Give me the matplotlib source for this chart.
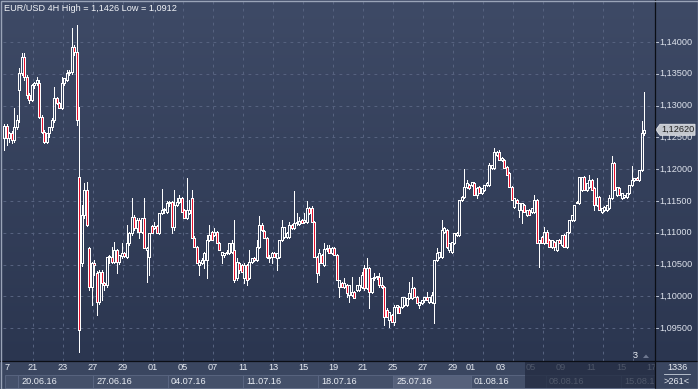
import numpy as np
import matplotlib
matplotlib.use("Agg")
import matplotlib.pyplot as plt
import matplotlib.transforms as mtransforms
from matplotlib.patches import Rectangle, Polygon
from matplotlib.colors import LinearSegmentedColormap

plt.rcParams['font.family'] = ['Liberation Sans', 'DejaVu Sans']

# EUR/USD 4H bars, 17.06.16 .. 16.08.16
opens = [
    1.1249, 1.1268, 1.1249, 1.1257, 1.1246, 1.1266, 1.1325, 1.1351, 1.1376, 1.1345,
    1.1317, 1.1309, 1.1332, 1.1336, 1.1336, 1.1282, 1.1259, 1.1243, 1.1257, 1.1266,
    1.1277, 1.1312, 1.1304, 1.1296, 1.1336, 1.1340, 1.1351, 1.1353, 1.1392, 1.1384,
    1.1188,
    1.1053, 1.1128, 1.1167, 1.1076, 1.1015, 1.1053, 1.1037, 1.0991, 1.1038, 1.1021,
    1.1018, 1.1062, 1.1062, 1.1054, 1.1073, 1.1054, 1.1064, 1.1068, 1.1062, 1.1084,
    1.1100, 1.1125, 1.1108, 1.1120, 1.1101, 1.1123, 1.1073, 1.1062, 1.1111, 1.1108,
    1.1111, 1.1100, 1.1131, 1.1136, 1.1133, 1.1147, 1.1148, 1.1109, 1.1144, 1.1148,
    1.1155, 1.1136, 1.1123, 1.1131, 1.1155, 1.1092, 1.1078, 1.1049, 1.1053, 1.1057,
    1.1057, 1.1089, 1.1101, 1.1097, 1.1101, 1.1084, 1.1065, 1.1065, 1.1068, 1.1068,
    1.1070, 1.1073,
    1.1029, 1.1053, 1.1049, 1.1029, 1.1049, 1.1029, 1.1054, 1.1060, 1.1057, 1.1078,
    1.1112, 1.1103, 1.1092, 1.1060, 1.1062, 1.1068, 1.1060, 1.1062, 1.1089, 1.1093,
    1.1093, 1.1093, 1.1112, 1.1108, 1.1115, 1.1114, 1.1120, 1.1117, 1.1117, 1.1139,
    1.1139, 1.1117, 1.1062, 1.1053, 1.1065, 1.1049, 1.1075, 1.1076, 1.1068, 1.1076,
    1.1065, 1.1015, 1.1021, 1.1015, 1.1018, 1.1002, 1.1002, 1.1007, 1.1010, 1.1010,
    1.1015, 1.1045, 1.1013, 1.1045, 1.1007, 1.1029, 1.1031, 1.1031, 1.1018, 1.1015,
    1.0979, 1.0963, 1.0971, 1.0960, 1.0983, 1.0983, 1.0983, 1.0986, 1.0986, 1.0998,
    1.0998, 1.1013, 1.0999, 1.0986, 1.0990, 1.0994, 1.0999, 1.0991, 1.0991,
    1.0990, 1.1057, 1.1062, 1.1062, 1.1101, 1.1104, 1.1073, 1.1070, 1.1084, 1.1097,
    1.1097, 1.1152, 1.1156, 1.1172, 1.1175, 1.1175, 1.1178, 1.1159, 1.1172, 1.1163,
    1.1167, 1.1175, 1.1175, 1.1202, 1.1202, 1.1222, 1.1227, 1.1214, 1.1214, 1.1203,
    1.1194, 1.1172, 1.1141, 1.1152, 1.1136, 1.1136, 1.1144, 1.1128, 1.1136, 1.1133,
    1.1133, 1.1152, 1.1084, 1.1093, 1.1084, 1.1101, 1.1089, 1.1078, 1.1086, 1.1073,
    1.1089, 1.1081, 1.1097, 1.1078, 1.1101, 1.1120, 1.1120, 1.1148, 1.1147, 1.1167,
    1.1188, 1.1167, 1.1172, 1.1183, 1.1170, 1.1144, 1.1156, 1.1133, 1.1136, 1.1136,
    1.1139, 1.1155, 1.1210, 1.1159, 1.1170, 1.1155, 1.1156, 1.1156, 1.1163, 1.1175,
    1.1183, 1.1186, 1.1183, 1.1199, 1.1257,
]
highs = [
    1.1271, 1.1271, 1.1259, 1.1260, 1.1296, 1.1285, 1.1359, 1.1383, 1.1383, 1.1348,
    1.1320, 1.1334, 1.1337, 1.1345, 1.1340, 1.1285, 1.1262, 1.1257, 1.1266, 1.1281,
    1.1329, 1.1314, 1.1306, 1.1345, 1.1343, 1.1356, 1.1356, 1.1422, 1.1395, 1.1426,
    1.1298,
    1.1144, 1.1178, 1.1180, 1.1078, 1.1054, 1.1057, 1.1040, 1.1042, 1.1042, 1.1023,
    1.1062, 1.1065, 1.1078, 1.1086, 1.1075, 1.1065, 1.1084, 1.1070, 1.1112, 1.1101,
    1.1155, 1.1128, 1.1123, 1.1123, 1.1123, 1.1155, 1.1078, 1.1100, 1.1112, 1.1117,
    1.1112, 1.1131, 1.1169, 1.1139, 1.1150, 1.1150, 1.1150, 1.1167, 1.1155, 1.1159,
    1.1156, 1.1137, 1.1186, 1.1152, 1.1167, 1.1095, 1.1079, 1.1057, 1.1060, 1.1070,
    1.1097, 1.1112, 1.1103, 1.1108, 1.1103, 1.1086, 1.1070, 1.1068, 1.1073, 1.1084,
    1.1089, 1.1120,
    1.1060, 1.1054, 1.1051, 1.1053, 1.1051, 1.1073, 1.1060, 1.1062, 1.1089, 1.1126,
    1.1115, 1.1104, 1.1093, 1.1065, 1.1070, 1.1070, 1.1068, 1.1089, 1.1120, 1.1109,
    1.1101, 1.1117, 1.1114, 1.1166, 1.1131, 1.1125, 1.1122, 1.1131, 1.1150, 1.1141,
    1.1142, 1.1119, 1.1064, 1.1075, 1.1067, 1.1084, 1.1081, 1.1081, 1.1078, 1.1078,
    1.1067, 1.1026, 1.1023, 1.1029, 1.1020, 1.1018, 1.1031, 1.1009, 1.1018, 1.1031,
    1.1038, 1.1049, 1.1060, 1.1046, 1.1029, 1.1037, 1.1032, 1.1037, 1.1031, 1.1016,
    1.0982, 1.0975, 1.0972, 1.0986, 1.0986, 1.0985, 1.0999, 1.0999, 1.0998, 1.1023,
    1.1031, 1.1015, 1.1001, 1.0991, 1.0994, 1.0999, 1.1007, 1.0999, 1.1007,
    1.1057, 1.1076, 1.1070, 1.1120, 1.1109, 1.1106, 1.1084, 1.1086, 1.1100, 1.1101,
    1.1152, 1.1158, 1.1200, 1.1183, 1.1177, 1.1180, 1.1180, 1.1172, 1.1174, 1.1170,
    1.1175, 1.1180, 1.1210, 1.1207, 1.1233, 1.1229, 1.1230, 1.1219, 1.1216, 1.1205,
    1.1196, 1.1174, 1.1155, 1.1153, 1.1147, 1.1147, 1.1145, 1.1136, 1.1137, 1.1139,
    1.1159, 1.1153, 1.1089, 1.1095, 1.1109, 1.1104, 1.1090, 1.1089, 1.1087, 1.1089,
    1.1090, 1.1097, 1.1098, 1.1101, 1.1120, 1.1128, 1.1144, 1.1150, 1.1188, 1.1188,
    1.1189, 1.1178, 1.1191, 1.1185, 1.1172, 1.1186, 1.1158, 1.1139, 1.1142, 1.1144,
    1.1159, 1.1221, 1.1211, 1.1172, 1.1172, 1.1163, 1.1159, 1.1163, 1.1175, 1.1205,
    1.1186, 1.1188, 1.1199, 1.1276, 1.1321,
]
lows = [
    1.1230, 1.1238, 1.1243, 1.1241, 1.1243, 1.1263, 1.1274, 1.1348, 1.1340, 1.1312,
    1.1304, 1.1307, 1.1328, 1.1332, 1.1281, 1.1257, 1.1241, 1.1241, 1.1251, 1.1262,
    1.1274, 1.1303, 1.1296, 1.1295, 1.1332, 1.1339, 1.1348, 1.1350, 1.1380, 1.1270,
    1.0912,
    1.1048, 1.1123, 1.1111, 1.1010, 1.0986, 1.1034, 1.0971, 1.0988, 1.0994, 1.1010,
    1.1015, 1.1053, 1.1053, 1.1053, 1.1037, 1.1051, 1.1060, 1.1062, 1.1060, 1.1081,
    1.1097, 1.1104, 1.1101, 1.1092, 1.1100, 1.1076, 1.1023, 1.1034, 1.1100, 1.1106,
    1.1100, 1.1098, 1.1130, 1.1131, 1.1131, 1.1142, 1.1100, 1.1104, 1.1142, 1.1147,
    1.1133, 1.1123, 1.1122, 1.1130, 1.1092, 1.1078, 1.1053, 1.1034, 1.1051, 1.1045,
    1.1029, 1.1087, 1.1089, 1.1095, 1.1084, 1.1073, 1.1053, 1.1062, 1.1067, 1.1067,
    1.1068, 1.1023,
    1.1026, 1.1037, 1.1038, 1.1021, 1.1018, 1.1027, 1.1053, 1.1056, 1.1056, 1.1076,
    1.1103, 1.1092, 1.1060, 1.1054, 1.1053, 1.1062, 1.1042, 1.1060, 1.1087, 1.1092,
    1.1092, 1.1092, 1.1106, 1.1106, 1.1112, 1.1112, 1.1115, 1.1115, 1.1115, 1.1130,
    1.1117, 1.1062, 1.1023, 1.1034, 1.1053, 1.1048, 1.1071, 1.1068, 1.1067, 1.1065,
    1.1026, 1.0999, 1.1015, 1.1013, 1.0999, 1.0991, 1.1001, 1.0998, 1.1009, 1.1009,
    1.1013, 1.1010, 1.1012, 1.0982, 1.1005, 1.1026, 1.1027, 1.1015, 1.1013, 1.0955,
    1.0968, 1.0952, 1.0960, 1.0955, 1.0974, 1.0974, 1.0982, 1.0985, 1.0985, 1.0996,
    1.0996, 1.0999, 1.0990, 1.0982, 1.0988, 1.0991, 1.0994, 1.0990, 1.0990,
    1.0958, 1.1056, 1.1060, 1.1060, 1.1100, 1.1076, 1.1070, 1.1068, 1.1082, 1.1095,
    1.1095, 1.1150, 1.1155, 1.1170, 1.1169, 1.1174, 1.1159, 1.1155, 1.1163, 1.1161,
    1.1166, 1.1174, 1.1174, 1.1200, 1.1200, 1.1221, 1.1214, 1.1213, 1.1202, 1.1191,
    1.1172, 1.1152, 1.1139, 1.1147, 1.1125, 1.1115, 1.1133, 1.1126, 1.1128, 1.1131,
    1.1131, 1.1084, 1.1046, 1.1084, 1.1082, 1.1084, 1.1078, 1.1076, 1.1073, 1.1071,
    1.1084, 1.1079, 1.1078, 1.1076, 1.1100, 1.1119, 1.1119, 1.1147, 1.1145, 1.1166,
    1.1167, 1.1166, 1.1170, 1.1167, 1.1136, 1.1142, 1.1136, 1.1131, 1.1134, 1.1134,
    1.1137, 1.1153, 1.1167, 1.1158, 1.1159, 1.1153, 1.1155, 1.1155, 1.1161, 1.1174,
    1.1181, 1.1183, 1.1181, 1.1197, 1.1254,
]
closes = [
    1.1268, 1.1249, 1.1257, 1.1246, 1.1266, 1.1277, 1.1351, 1.1376, 1.1345, 1.1317,
    1.1309, 1.1332, 1.1336, 1.1340, 1.1282, 1.1259, 1.1243, 1.1257, 1.1266, 1.1277,
    1.1312, 1.1304, 1.1296, 1.1336, 1.1343, 1.1351, 1.1353, 1.1392, 1.1384, 1.1277,
    1.0947,
    1.1128, 1.1167, 1.1112, 1.1015, 1.1053, 1.1049, 1.0991, 1.1038, 1.1021, 1.1018,
    1.1062, 1.1064, 1.1054, 1.1073, 1.1054, 1.1065, 1.1068, 1.1064, 1.1084, 1.1100,
    1.1125, 1.1108, 1.1120, 1.1101, 1.1123, 1.1076, 1.1076, 1.1100, 1.1100, 1.1111,
    1.1100, 1.1131, 1.1136, 1.1137, 1.1147, 1.1148, 1.1109, 1.1144, 1.1148, 1.1155,
    1.1133, 1.1123, 1.1136, 1.1136, 1.1092, 1.1078, 1.1053, 1.1054, 1.1057, 1.1068,
    1.1089, 1.1097, 1.1089, 1.1101, 1.1084, 1.1073, 1.1070, 1.1068, 1.1070, 1.1084,
    1.1084, 1.1026,
    1.1054, 1.1042, 1.1038, 1.1049, 1.1026, 1.1054, 1.1060, 1.1057, 1.1078, 1.1112,
    1.1104, 1.1092, 1.1062, 1.1062, 1.1068, 1.1062, 1.1068, 1.1089, 1.1109, 1.1109,
    1.1100, 1.1112, 1.1108, 1.1115, 1.1117, 1.1119, 1.1115, 1.1120, 1.1139, 1.1131,
    1.1117, 1.1062, 1.1037, 1.1068, 1.1053, 1.1075, 1.1076, 1.1068, 1.1076, 1.1065,
    1.1026, 1.1026, 1.1015, 1.1021, 1.1005, 1.1018, 1.1007, 1.0998, 1.1018, 1.1018,
    1.1034, 1.1013, 1.1045, 1.1007, 1.1029, 1.1031, 1.1032, 1.1018, 1.1015, 1.0968,
    1.0968, 1.0975, 1.0960, 1.0983, 1.0986, 1.0974, 1.0999, 1.0999, 1.0998, 1.1005,
    1.1013, 1.0999, 1.0990, 1.0991, 1.0994, 1.0999, 1.0994, 1.0999, 1.1002,
    1.1057, 1.1068, 1.1070, 1.1104, 1.1108, 1.1078, 1.1084, 1.1086, 1.1100, 1.1100,
    1.1152, 1.1156, 1.1172, 1.1178, 1.1170, 1.1180, 1.1159, 1.1170, 1.1163, 1.1170,
    1.1175, 1.1178, 1.1207, 1.1207, 1.1227, 1.1227, 1.1214, 1.1218, 1.1202, 1.1191,
    1.1172, 1.1152, 1.1155, 1.1147, 1.1147, 1.1147, 1.1133, 1.1136, 1.1128, 1.1139,
    1.1152, 1.1084, 1.1089, 1.1084, 1.1101, 1.1084, 1.1078, 1.1089, 1.1078, 1.1089,
    1.1084, 1.1097, 1.1078, 1.1101, 1.1120, 1.1128, 1.1144, 1.1147, 1.1188, 1.1188,
    1.1167, 1.1178, 1.1183, 1.1167, 1.1144, 1.1156, 1.1136, 1.1139, 1.1141, 1.1144,
    1.1155, 1.1210, 1.1167, 1.1172, 1.1159, 1.1163, 1.1159, 1.1163, 1.1175, 1.1183,
    1.1186, 1.1183, 1.1199, 1.1257, 1.1262,
]

price_ticks = [1.095, 1.100, 1.105, 1.110, 1.115, 1.120, 1.125, 1.130, 1.135, 1.140]

# day labels (trading day number counted from Fri 17.06); the first one is cut by the edge
day_labels = ["7", "21", "23", "27", "29", "01", "05", "07", "11", "13", "15",
              "19", "21", "25", "27", "29", "01", "03", "05", "09", "11", "15", "17"]
day_nums = [0, 2, 4, 6, 8, 10, 12, 14, 16, 18, 20,
            22, 24, 26, 28, 30, 31, 33, 35, 37, 39, 41, 43]
week_labels = ["", "20.06.16", "27.06.16", "04.07.16", "11.07.16", "18.07.16",
               "25.07.16", "01.08.16", "08.08.16", "15.08.16"]
week_days = [-4, 1, 6, 11, 16, 21, 26, 31, 36, 41]

W, H = 698, 389
PLOT_L, PLOT_R, PLOT_B = 3, 655, 361
BAR_PX = 2.5
DAY_PX = 6 * BAR_PX
DIM_X = 525


def day_px(d):
    # pixel x of the start of trading day d (one extra bar slot after 29.07)
    return PLOT_L + d * DAY_PX + (3 if d >= 31 else 0)


fig = plt.figure(figsize=(W / 100, H / 100), dpi=100)

# background gradient + chrome layer (pixel coordinates)
bg = fig.add_axes([0, 0, 1, 1], zorder=0)
bg.set_axis_off()
bg.set_xlim(0, W)
bg.set_ylim(H, 0)
grad = np.linspace(0, 1, 256)[:, None]
cmap = LinearSegmentedColormap.from_list('bg', ['#3e4a66', '#2b3650'])
bg.imshow(grad, aspect='auto', cmap=cmap, extent=[0, W, PLOT_B, 0], zorder=0)

# main price axes
ax = fig.add_axes([PLOT_L / W, (H - PLOT_B) / H, (PLOT_R - PLOT_L) / W, PLOT_B / H], zorder=1)
ax.set_facecolor('none')
for s in ax.spines.values():
    s.set_visible(False)
ax.set_xticks([])
ax.set_yticks([])
n_slots = (PLOT_R - PLOT_L) / BAR_PX
ax.set_xlim(-0.5, n_slots - 0.5)
px_per_unit = 6360.0
y_top = 1.14 + 42 / px_per_unit
y_bot = y_top - PLOT_B / px_per_unit
ax.set_ylim(y_bot, y_top)

grid_kw = dict(color='#56627f', lw=0.72, dashes=(2.8, 4.2), zorder=1)
for p in price_ticks:
    ax.axhline(p, **grid_kw)
for gx in range(33, PLOT_R, 30):
    ax.axvline((gx - PLOT_L) / BAR_PX - 0.5, **grid_kw)

o = np.array(opens)
h = np.array(highs)
l = np.array(lows)
c = np.array(closes)
x = np.arange(len(c))
top = np.maximum(o, c)
bot = np.minimum(o, c)
up = c >= o

ax.vlines(x, top, np.maximum(h, top), color='white', lw=0.72, zorder=3, antialiased=False)
ax.vlines(x, np.minimum(l, bot), bot, color='white', lw=0.72, zorder=3, antialiased=False)
face = np.where(up, 'none', '#e8112d')
ax.bar(x, top - bot, bottom=bot, width=0.8, color=face, edgecolor='white',
       linewidth=0.72, zorder=4, antialiased=False)

# right price axis labels
lab_tr = mtransforms.blended_transform_factory(bg.transData, ax.transData)
for p in price_ticks:
    ax.text(659, p, f"{p:.5f}".replace('.', ','), transform=lab_tr, ha='left',
            va='center', color='#dde2ec', fontsize=6.6, clip_on=False)
    ax.plot([655, 658], [p, p], transform=lab_tr, color='#c0c8d8', lw=0.7, clip_on=False)

# last price tag
last = closes[-1]
hh = 5.5 / px_per_unit
tag = Polygon([(656, last), (660, last + hh), (695, last + hh), (695, last - hh), (660, last - hh)],
              closed=True, transform=lab_tr, facecolor='#c3c7ce', edgecolor='#e4e6ea',
              lw=0.6, zorder=6, clip_on=False)
ax.add_patch(tag)
ax.text(661, last, f"{last:.5f}".replace('.', ','), transform=lab_tr, ha='left', va='center',
        color='#202020', fontsize=6.6, zorder=7, clip_on=False)

# chrome on top
ov = fig.add_axes([0, 0, 1, 1], zorder=2)
ov.set_axis_off()
ov.set_facecolor('none')
ov.set_xlim(0, W)
ov.set_ylim(H, 0)

ov.text(4, 8, "EUR/USD 4H High = 1,1426 Low = 1,0912", ha='left', va='center',
        color='#f2f4f8', fontsize=6.6)

# bottom time strip
ov.add_patch(Rectangle((0, PLOT_B), W, H - PLOT_B, facecolor='#3a4660', edgecolor='none', zorder=1))
for k, (lab, d) in enumerate(zip(week_labels, week_days)):
    x0 = max(day_px(d), 5)
    x1 = day_px(week_days[k + 1]) if k + 1 < len(week_days) else PLOT_R
    x1 = min(x1, PLOT_R)
    fc = '#56617b' if lab == "25.07.16" else '#44506a'
    ov.add_patch(Rectangle((x0, 375), x1 - x0, 12.5, facecolor=fc, edgecolor='#5c6884',
                           lw=0.6, zorder=2))
    if lab:
        ov.text(x0 + 3, 381.5, lab, ha='left', va='center', color='#e8ecf3',
                fontsize=6.6, zorder=4)
for lab, d in zip(day_labels, day_nums):
    xp = max(day_px(d), 7)
    ov.text(xp, 368, lab, ha='center', va='center', color='#e8ecf3',
            fontsize=6.6, zorder=4)

# dimmed (scrolled) region of the strip
ov.add_patch(Rectangle((DIM_X, 362), PLOT_R - DIM_X, 26, facecolor='#232c42', edgecolor='none',
                       alpha=0.78, zorder=5))

# corner box
ov.add_patch(Rectangle((PLOT_R, PLOT_B), W - PLOT_R, H - PLOT_B, facecolor='#3a4660',
                       edgecolor='none', zorder=6))
ov.text(677, 367.5, "1336", ha='center', va='center', color='#e8ecf3', fontsize=6.6, zorder=7)
ov.plot([664, 690], [373.5, 373.5], color='#c8d0dc', lw=0.6, zorder=7)
ov.text(677, 381.5, ">261<", ha='center', va='center', color='#e8ecf3', fontsize=6.6, zorder=7)

# separators
ov.plot([0, W], [PLOT_B, PLOT_B], color='#0b0e15', lw=0.9, zorder=8)
ov.plot([PLOT_R, PLOT_R], [0, H], color='#0b0e15', lw=0.9, zorder=8)

# small marker at the bottom of the plot
ov.text(635, 355, "3", ha='center', va='center', color='#eef1f6', fontsize=6.6, zorder=8)
ov.add_patch(Polygon([(643, 358), (649, 358), (646, 354.5)], closed=True,
                     facecolor='#6e7890', edgecolor='none', zorder=8))

# outer frame
ov.add_patch(Rectangle((0.5, 0.5), W - 1, H - 1, facecolor='none', edgecolor='#9aa4b8',
                       lw=1.0, zorder=9))

fig.savefig("out.png", dpi=100)
